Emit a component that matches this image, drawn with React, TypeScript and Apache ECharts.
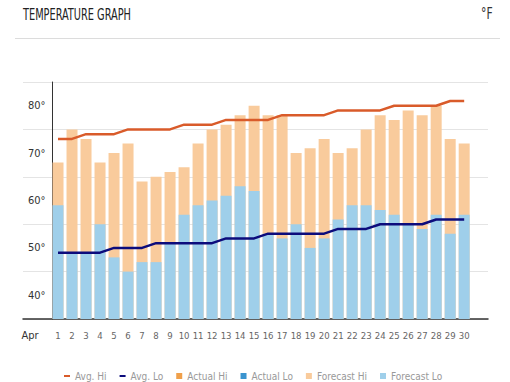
import React, { useEffect, useRef } from "react";
import * as echarts from "echarts";

const monthLabel = "Apr";
const days = [1, 2, 3, 4, 5, 6, 7, 8, 9, 10, 11, 12, 13, 14, 15, 16, 17, 18, 19, 20, 21, 22, 23, 24, 25, 26, 27, 28, 29, 30];
const forecastHi = [68, 75, 73, 68, 70, 72, 64, 65, 66, 67, 72, 75, 76, 78, 80, 78, 78, 70, 71, 73, 70, 71, 75, 78, 77, 79, 78, 80, 73, 72];
const forecastLo = [59, 49, 49, 55, 48, 45, 47, 47, 51, 57, 59, 60, 61, 63, 62, 53, 52, 55, 50, 52, 56, 59, 59, 58, 57, 55, 54, 57, 53, 57];
const avgHi = [73, 73, 74, 74, 74, 75, 75, 75, 75, 76, 76, 76, 77, 77, 77, 77, 78, 78, 78, 78, 79, 79, 79, 79, 80, 80, 80, 80, 81, 81];
const avgLo = [49, 49, 49, 49, 50, 50, 50, 51, 51, 51, 51, 51, 52, 52, 52, 53, 53, 53, 53, 53, 54, 54, 54, 55, 55, 55, 55, 56, 56, 56];
const actualHi: number[] = [];
const actualLo: number[] = [];
const yLabelValues = [40, 50, 60, 70, 80];

const FONT = "'DejaVu Sans Condensed', 'Liberation Sans', sans-serif";
const DASH_ICON = "path://M0,0h6v2h-6z";

export default function App() {
  const ref = useRef<HTMLDivElement>(null);
  useEffect(() => {
    if (!ref.current) return;
    const chart = echarts.init(ref.current, null, { renderer: "svg" });
    const pairs = (arr: number[]) => arr.map((v, i) => [days[i], v]);
    chart.setOption({
      animation: false,
      textStyle: { fontFamily: FONT },
      graphic: [
        {
          type: "text",
          x: 23,
          y: 6,
          scaleX: 0.68,
          style: { text: "TEMPERATURE GRAPH", fontSize: 16, fontFamily: FONT, fill: "#222" },
        },
        {
          type: "text",
          x: 481,
          y: 6,
          scaleX: 0.8,
          style: { text: "°F", fontSize: 15, fontFamily: FONT, fill: "#333" },
        },
        {
          type: "line",
          shape: { x1: 15, y1: 38.5, x2: 500, y2: 38.5 },
          style: { stroke: "#dcdcdc", lineWidth: 1 },
        },
      ],
      grid: { left: 23, right: 22, top: 82, bottom: 63, containLabel: false },
      legend: {
        left: 59,
        top: 366,
        itemWidth: 6,
        itemHeight: 6,
        itemGap: 13,
        symbolKeepAspect: true,
        textStyle: { color: "#999", fontSize: 10, fontFamily: FONT },
        data: [
          { name: "Avg. Hi", icon: DASH_ICON },
          { name: "Avg. Lo", icon: DASH_ICON },
          { name: "Actual Hi", icon: "rect" },
          { name: "Actual Lo", icon: "rect" },
          { name: "Forecast Hi", icon: "rect" },
          { name: "Forecast Lo", icon: "rect" },
        ],
      },
      xAxis: {
        type: "value",
        min: -1.5,
        max: 31.7,
        interval: 0.5,
        splitLine: { show: false },
        axisTick: { show: false },
        axisLine: { onZero: false, lineStyle: { color: "#333", width: 1.5 } },
        axisLabel: {
          margin: 11,
          fontSize: 9.5,
          color: "#666",
          fontFamily: FONT,
          showMinLabel: true,
          showMaxLabel: true,
          formatter: (v: number) => {
            if (v === -1) return "{m|" + monthLabel + "}";
            if (days.indexOf(v) >= 0) return String(v);
            return "";
          },
          rich: { m: { fontSize: 11, color: "#333", fontFamily: FONT } },
        },
      },
      yAxis: [
        {
          type: "value",
          min: 35,
          max: 85,
          interval: 10,
          position: "left",
          axisLine: { show: false },
          axisTick: { show: false },
          axisLabel: { show: false },
          splitLine: { show: true, lineStyle: { color: "#e4e4e4", width: 1 } },
        },
        {
          type: "value",
          min: 35,
          max: 85,
          interval: 5,
          position: "left",
          axisLine: { show: false },
          axisTick: { show: false },
          splitLine: { show: false },
          axisLabel: {
            inside: true,
            margin: 5,
            fontSize: 11,
            color: "#333",
            fontFamily: FONT,
            padding: [0, 0, 6, 0],
            formatter: (v: number) => (yLabelValues.indexOf(v) >= 0 ? v + "°" : ""),
          },
        },
        {
          type: "value",
          min: 35,
          max: 85,
          position: "left",
          offset: -29.3,
          axisLine: { show: true, onZero: false, lineStyle: { color: "#333", width: 1 } },
          axisTick: { show: false },
          axisLabel: { show: false },
          splitLine: { show: false },
        },
      ],
      series: [
        {
          name: "Forecast Hi",
          type: "bar",
          barWidth: 11,
          barGap: "-100%",
          itemStyle: { color: "#F9CB9C" },
          data: pairs(forecastHi),
        },
        {
          name: "Forecast Lo",
          type: "bar",
          barWidth: 11,
          barGap: "-100%",
          itemStyle: { color: "#9FCFEA" },
          data: pairs(forecastLo),
        },
        {
          name: "Actual Hi",
          type: "bar",
          barWidth: 11,
          barGap: "-100%",
          itemStyle: { color: "#F0A04B" },
          data: pairs(actualHi),
        },
        {
          name: "Actual Lo",
          type: "bar",
          barWidth: 11,
          barGap: "-100%",
          itemStyle: { color: "#3B94CF" },
          data: pairs(actualLo),
        },
        {
          name: "Avg. Hi",
          type: "line",
          symbol: "none",
          lineStyle: { color: "#D95B2A", width: 2.5 },
          itemStyle: { color: "#D95B2A" },
          data: pairs(avgHi),
        },
        {
          name: "Avg. Lo",
          type: "line",
          symbol: "none",
          lineStyle: { color: "#0C0C7C", width: 2.5 },
          itemStyle: { color: "#0C0C7C" },
          data: pairs(avgLo),
        },
      ],
    });
    return () => chart.dispose();
  }, []);
  return <div ref={ref} style={{ width: 510, height: 382, position: "absolute", left: 0, top: 0 }} />;
}
